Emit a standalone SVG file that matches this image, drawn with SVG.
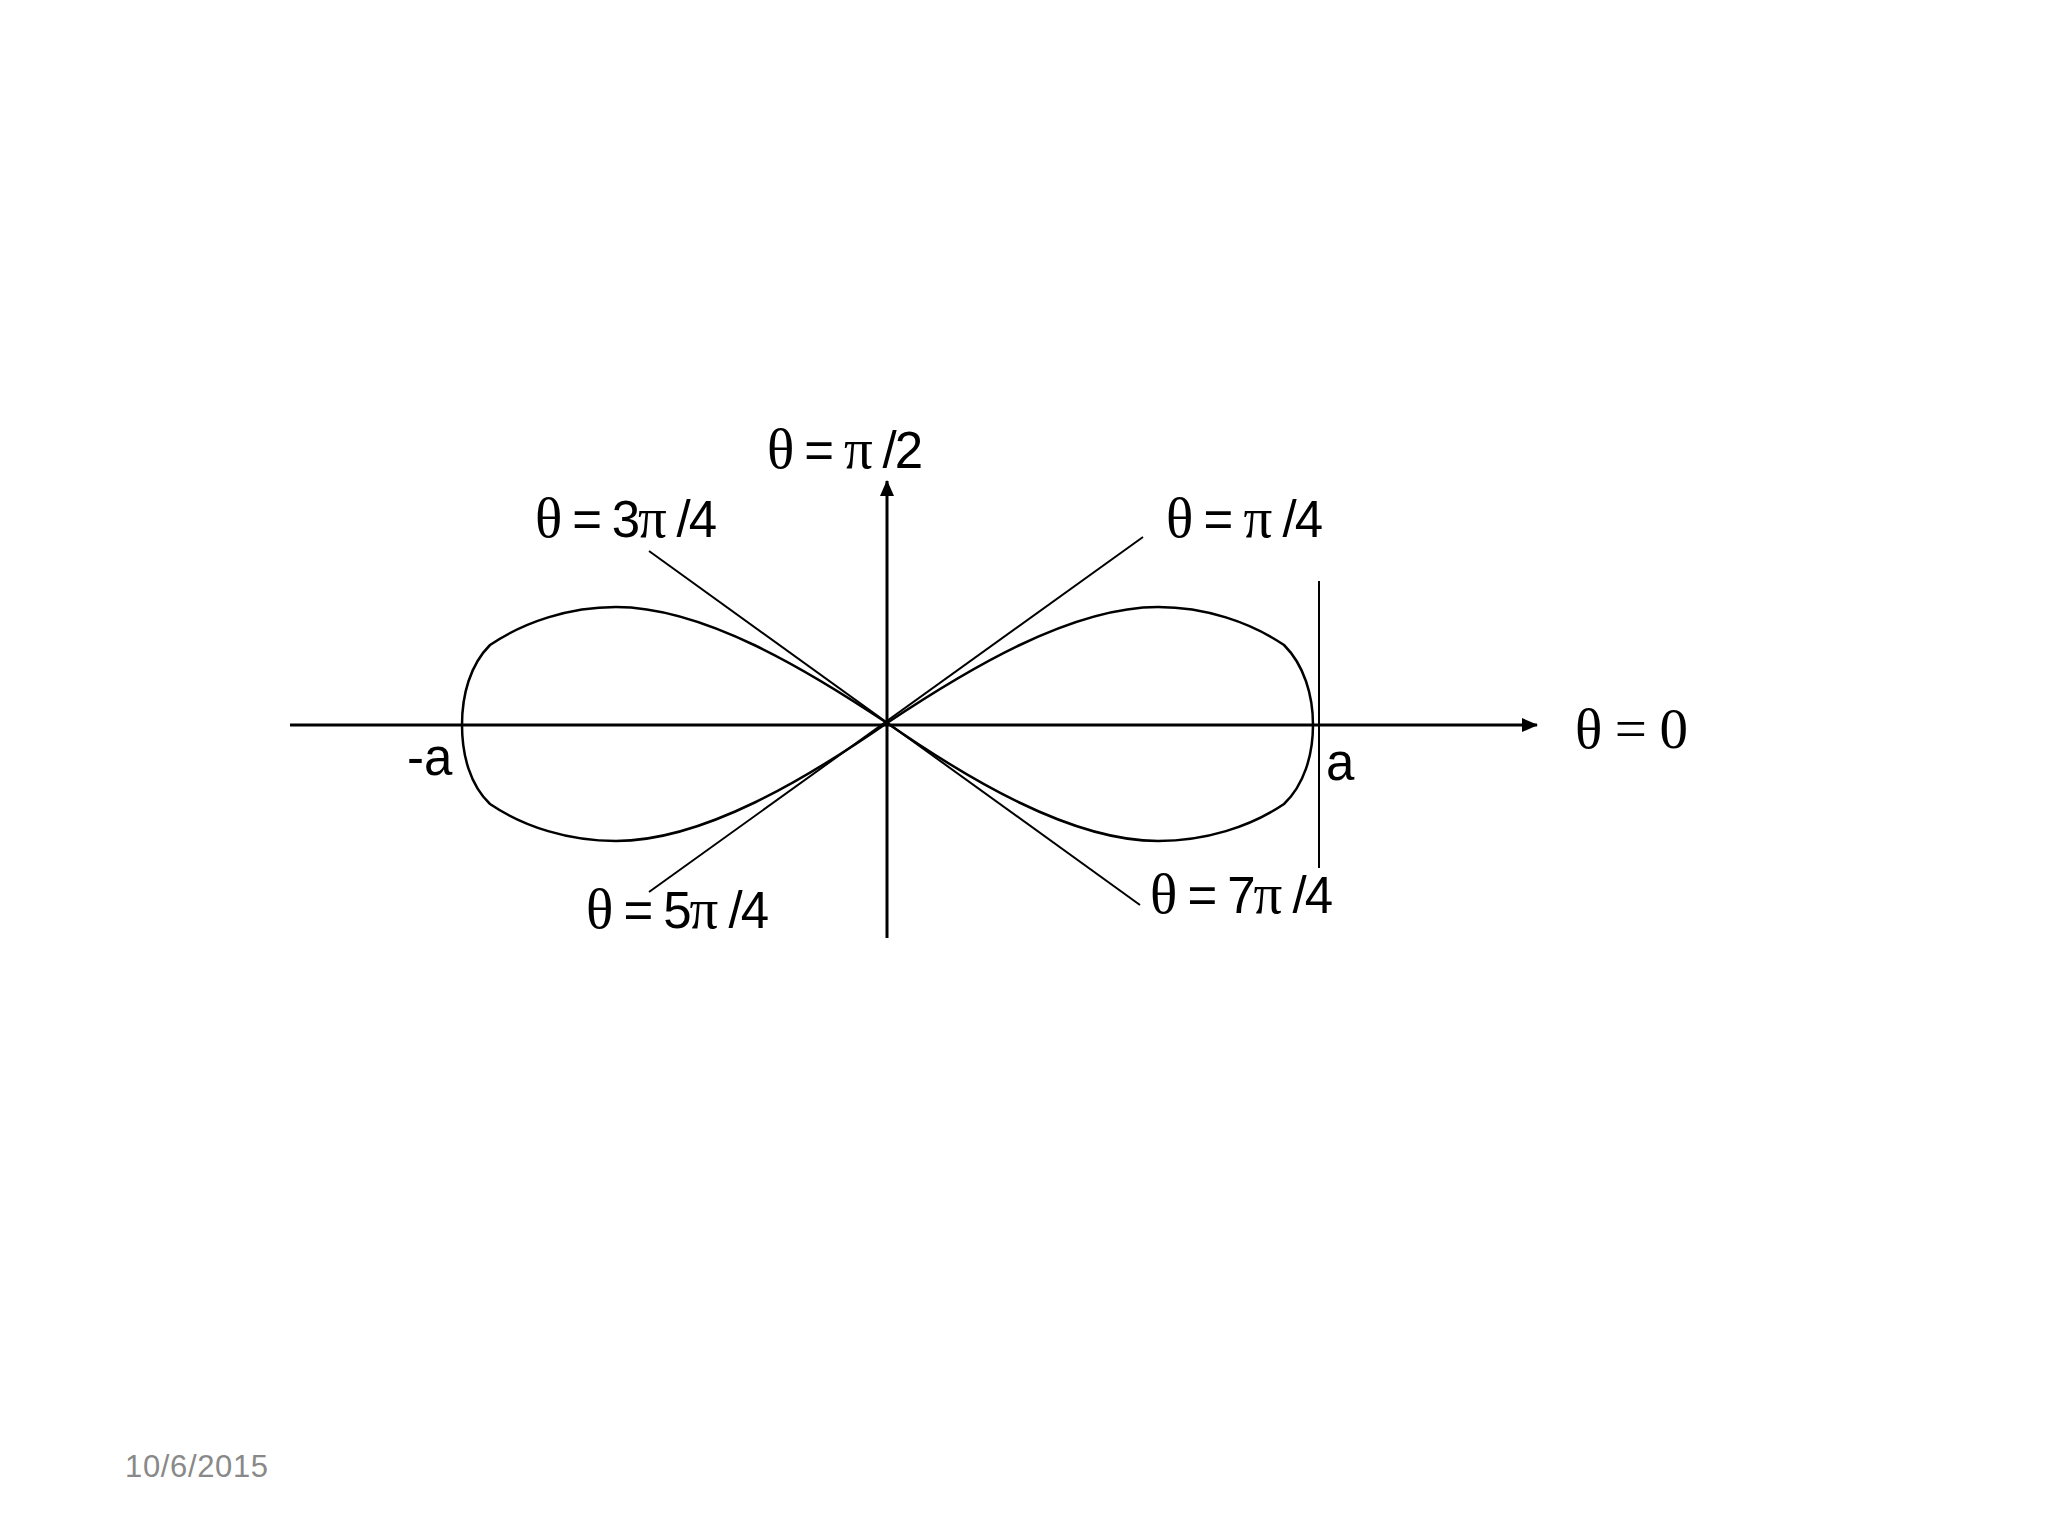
<svg xmlns="http://www.w3.org/2000/svg" width="2048" height="1536" viewBox="0 0 2048 1536">
<style>
.ax{stroke:#000;stroke-width:3;fill:none}
.ln{stroke:#000;stroke-width:2;fill:none}
.cv{stroke:#000;stroke-width:2.5;fill:none}
.lbl{font-family:"Liberation Sans",Arial,sans-serif;font-size:51px;fill:#000}
.s{font-family:"Liberation Serif","Times New Roman",serif;font-size:57px}
.sr{font-family:"Liberation Serif","Times New Roman",serif;font-size:57px;fill:#000}
.date{font-family:"Liberation Sans",Arial,sans-serif;font-size:31px;fill:#898989}
</style>
<defs>
<marker id="arr" markerWidth="16" markerHeight="14" refX="15" refY="7" orient="auto" markerUnits="userSpaceOnUse">
<path d="M0,0 L16,7 L0,14 Z" fill="#000"/>
</marker>
</defs>
<rect width="2048" height="1536" fill="#fff"/>
<g id="connectors">
<line id="x-axis" class="ax" x1="290" y1="725" x2="1537" y2="725" marker-end="url(#arr)"/>
<line id="y-axis" class="ax" x1="887" y1="938" x2="887" y2="481" marker-end="url(#arr)"/>
<line id="line-3pi4-7pi4" class="ln" x1="649" y1="551" x2="1140" y2="905"/>
<line id="line-pi4-5pi4" class="ln" x1="1143" y1="537" x2="649" y2="892"/>
<line id="line-a" class="ln" x1="1319" y1="581" x2="1319" y2="868"/>
</g>
<g id="curve">
<path class="cv" d="M887,723 C965,671 1070,607 1158,607 C1205,607 1250,622 1284,645 C1304,665 1313,695 1313,725"/>
<path class="cv" d="M887,723 C965,777 1070,841 1158,841 C1205,841 1250,827 1284,804 C1304,785 1313,755 1313,725"/>
<path class="cv" d="M887,723 C809,671 704,607 616,607 C569,607 524,622 490,645 C470,665 462,695 462,725"/>
<path class="cv" d="M887,723 C809,777 704,841 616,841 C569,841 524,827 490,804 C470,785 462,755 462,725"/>
</g>
<g id="label-pi2"><text class="lbl" x="767" y="468" textLength="156" lengthAdjust="spacing"><tspan class="s">θ</tspan> = <tspan class="s">π</tspan> /2</text></g>
<g id="label-3pi4"><text class="lbl" x="535" y="537" textLength="182" lengthAdjust="spacing"><tspan class="s">θ</tspan> = 3<tspan class="s">π</tspan> /4</text></g>
<g id="label-pi4"><text class="lbl" x="1166" y="537" textLength="157" lengthAdjust="spacing"><tspan class="s">θ</tspan> = <tspan class="s">π</tspan> /4</text></g>
<g id="label-5pi4"><text class="lbl" x="586" y="928" textLength="183" lengthAdjust="spacing"><tspan class="s">θ</tspan> = 5<tspan class="s">π</tspan> /4</text></g>
<g id="label-7pi4"><text class="lbl" x="1150" y="913" textLength="183" lengthAdjust="spacing"><tspan class="s">θ</tspan> = 7<tspan class="s">π</tspan> /4</text></g>
<g id="label-0"><text class="sr" x="1575" y="748" textLength="113" lengthAdjust="spacing">θ = 0</text></g>
<g id="label-neg-a"><text class="lbl" x="407" y="775">-a</text></g>
<g id="label-a"><text class="lbl" x="1326" y="780">a</text></g>
<g id="date"><text class="date" x="125" y="1477" textLength="143" lengthAdjust="spacing">10/6/2015</text></g>
</svg>
